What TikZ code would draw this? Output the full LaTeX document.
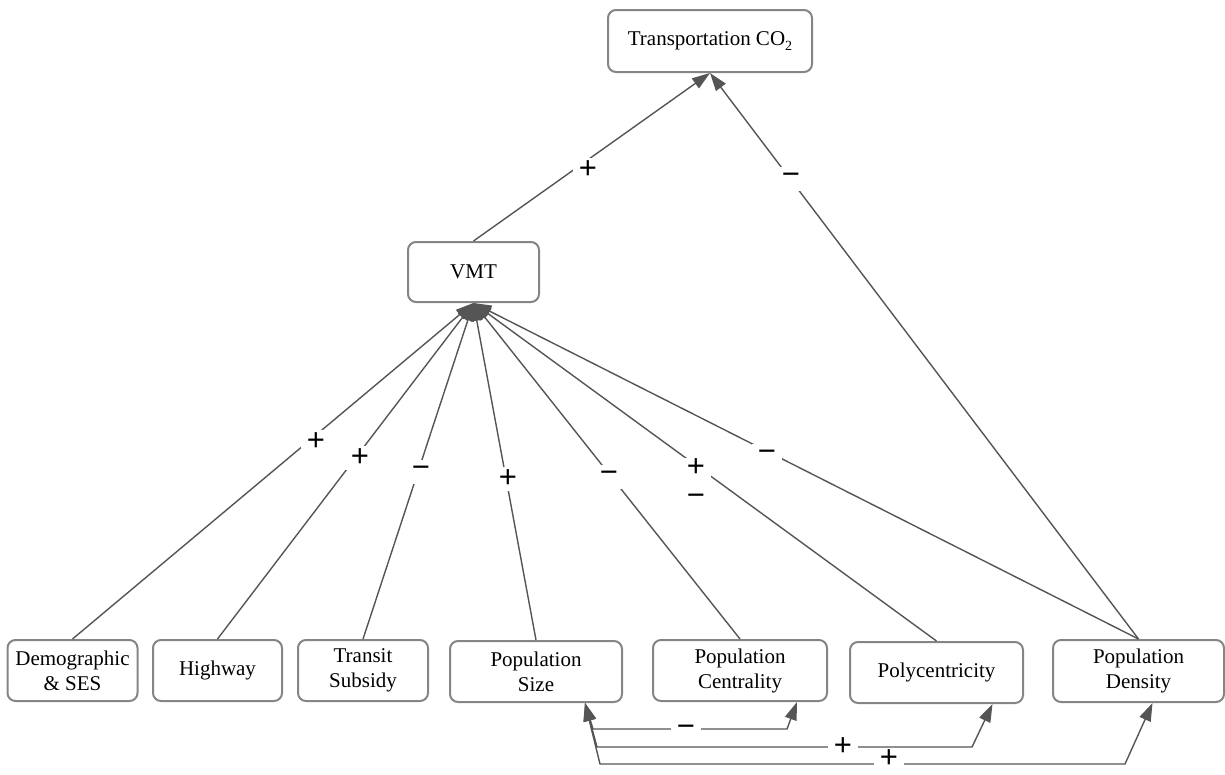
\documentclass[tikz,border=0pt]{standalone}
\usepackage{fontspec}
\setmainfont{Liberation Serif}
\newfontfamily\labfont{Liberation Sans}
\usetikzlibrary{arrows.meta}
\definecolor{edgec}{HTML}{555555}
\definecolor{boxc}{HTML}{858585}
\begin{document}
\begin{tikzpicture}[x=1pt,y=-1pt,
  box/.style={draw=boxc, line width=2pt, rounded corners=8pt, fill=white,
    align=center, inner sep=0pt, font=\fontsize{21}{25}\selectfont},
  edge/.style={draw=edgec, line width=1.4pt, -{Triangle[length=18pt,width=12pt]}},
  biedge/.style={draw=edgec, line width=1.4pt, {Triangle[length=18pt,width=12pt]}-{Triangle[length=18pt,width=12pt]}},
  labfnt/.style={font=\labfont\fontsize{31}{31}\selectfont},
  lab/.style={labfnt, fill=white, inner sep=3pt, minimum width=30pt, minimum height=24pt}
]
\useasboundingbox (0,0) rectangle (1225,774);

% nodes
\node[box, minimum width=204pt, minimum height=62pt] (co2) at (710,41) {Transportation CO\raisebox{-0.45ex}{\fontsize{14}{14}\selectfont 2}};
\node[box, minimum width=131pt, minimum height=60pt] (vmt) at (473.5,272) {VMT};
\node[box, minimum width=130pt, minimum height=61pt] (demo) at (72.5,670.5) {Demographic\\\& SES};
\node[box, minimum width=129pt, minimum height=61pt] (hwy) at (217.5,670.5) {Highway};
\node[box, minimum width=130pt, minimum height=61pt] (transit) at (363,670.5) {Transit\\Subsidy};
\node[box, minimum width=172pt, minimum height=61pt] (popsize) at (536,671.5) {Population\\Size};
\node[box, minimum width=174pt, minimum height=61pt] (popcent) at (740,670.5) {Population\\Centrality};
\node[box, minimum width=173pt, minimum height=61pt] (poly) at (936.5,672.5) {Polycentricity};
\node[box, minimum width=171pt, minimum height=62pt] (popdens) at (1138.5,671) {Population\\Density};

% edges to CO2
\draw[edge] (vmt.north) -- (co2.south);
\draw[edge] (popdens.north) -- (co2.south);

% edges to VMT
\draw[edge] (demo.north) -- (vmt.south);
\draw[edge] (hwy.north) -- (vmt.south);
\draw[edge] (transit.north) -- (vmt.south);
\draw[edge] (popsize.north) -- (vmt.south);
\draw[edge] (popcent.north) -- (vmt.south);
\draw[edge] (poly.north) -- (vmt.south);
\draw[edge] (popdens.north) -- (vmt.south);

% bottom bidirectional edges
\coordinate (c1a) at (593,729); \coordinate (c1b) at (787,729);
\coordinate (c2a) at (597,747); \coordinate (c2b) at (972,747);
\coordinate (c3a) at (600,764); \coordinate (c3b) at (1125,764);
\draw[biedge] ([xshift=49pt]popsize.south) -- (c1a) -- (c1b) -- ([xshift=57pt]popcent.south);
\draw[biedge] ([xshift=49pt]popsize.south) -- (c2a) -- (c2b) -- ([xshift=56pt]poly.south);
\draw[biedge] ([xshift=49pt]popsize.south) -- (c3a) -- (c3b) -- ([xshift=14pt]popdens.south);

% labels
\node[lab] (l1) at (588,170) {+};
\node[lab] (l2) at (791,179) {−};
\node[lab] (l3) at (316,442) {+};
\node[lab] (l4) at (360,458) {+};
\node[lab] (l5) at (421,472) {−};
\node[lab] (l6) at (508,479) {+};
\node[lab] (l7) at (609,477) {−};
\node[lab, minimum height=52pt] (l8bg) at (696,484) {};
\node[labfnt, inner sep=0pt] (l8a) at (696,468) {+};
\node[labfnt, inner sep=0pt] (l8b) at (696,500) {−};
\node[lab] (l9) at (767,456) {−};
\node[lab] (l10) at (686,731) {−};
\node[lab] (l11) at (843,747) {+};
\node[lab, minimum height=0pt, inner sep=2pt] (l12) at (889,759) {+};
\end{tikzpicture}
\end{document}
